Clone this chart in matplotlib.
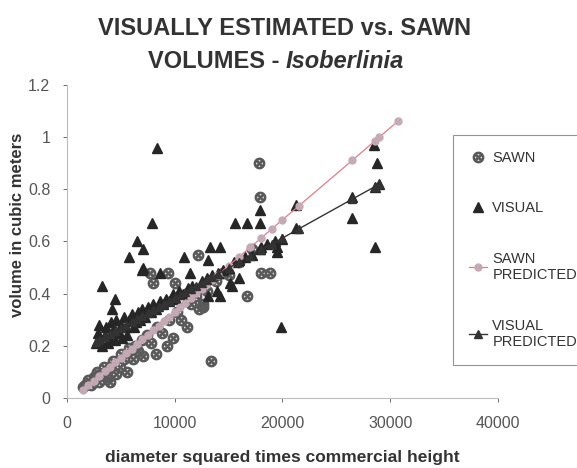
import matplotlib
matplotlib.use('Agg')
import matplotlib.pyplot as plt

plt.rcParams['font.family'] = ['Liberation Sans', 'DejaVu Sans']

# diameter squared times commercial height (x) and volume in m3 (y)
VISUAL_X = [2700, 2900, 3000, 3100, 3300, 3500, 3600, 3800, 4000, 4100, 4300, 4500, 4600, 4800,
            5000, 5100, 5300, 5500, 5600, 5800, 6000, 6200, 6400, 6600, 6800, 7000, 7200, 7500,
            7800, 8000, 8300, 8600, 8900, 9200, 9500, 9800, 10100, 10400, 10800, 11200, 11600,
            12000, 12500, 13000, 13500, 14000, 14500, 15000, 15500, 16000, 16500, 17200, 18000,
            18600, 19300, 20000,
            8350, 17900, 15600, 16700, 17900, 7900, 21300, 21300, 28500, 28800, 28600, 29000,
            26500, 26500, 28600, 13300, 14200, 10900, 13100, 17900, 19500, 16000, 15300, 14200,
            13900, 19900, 6500, 7100, 5800, 7000, 8600, 3300, 4500, 4200, 7100, 11400, 15100,
            13100, 19500]
VISUAL_Y = [0.21, 0.25, 0.28, 0.22, 0.20, 0.24, 0.27, 0.21, 0.23, 0.29, 0.26, 0.22, 0.30, 0.25,
            0.28, 0.23, 0.31, 0.27, 0.24, 0.30, 0.32, 0.27, 0.29, 0.33, 0.30, 0.34, 0.31, 0.35,
            0.33, 0.36, 0.34, 0.37, 0.36, 0.38, 0.37, 0.40, 0.38, 0.41, 0.40, 0.42, 0.43,
            0.42, 0.45, 0.46, 0.47, 0.48, 0.49, 0.50, 0.52, 0.53, 0.54, 0.55, 0.58,
            0.59, 0.60, 0.61,
            0.96, 0.72, 0.67, 0.67, 0.67, 0.67, 0.74, 0.65, 0.97, 0.90, 0.81, 0.82,
            0.77, 0.69, 0.58, 0.58, 0.58, 0.54, 0.53, 0.57, 0.58, 0.46, 0.43, 0.39,
            0.41, 0.27, 0.60, 0.57, 0.54, 0.49, 0.48, 0.43, 0.38, 0.34, 0.50, 0.48, 0.44,
            0.39, 0.56]

SAWN_X = [1500, 1700, 2000, 2200, 2500, 2800, 3000, 3100, 3400, 3600, 4000, 4000, 4300, 4600,
          4900, 5000, 5300, 5600, 5800, 6100, 6300, 6600, 7100, 7000, 7400, 7800, 8300, 8400,
          8800, 9300, 9500, 9800, 10200, 10600, 11100, 11500, 12000, 12300, 12600, 13000, 13400,
          13800, 14500, 15000, 16000, 16700, 17200, 18000, 18800, 17800, 17900, 12200, 7700,
          9400, 8000, 10000, 12600]
SAWN_Y = [0.04, 0.05, 0.07, 0.05, 0.08, 0.10, 0.06, 0.09, 0.12, 0.08, 0.06, 0.12, 0.14, 0.09,
          0.12, 0.17, 0.15, 0.10, 0.19, 0.15, 0.20, 0.18, 0.16, 0.22, 0.24, 0.21, 0.17, 0.27,
          0.25, 0.20, 0.30, 0.23, 0.33, 0.30, 0.27, 0.36, 0.39, 0.34, 0.36, 0.41, 0.14,
          0.45, 0.48, 0.47, 0.52, 0.39, 0.57, 0.48, 0.48, 0.90, 0.77, 0.55, 0.48,
          0.48, 0.44, 0.44, 0.35]

SAWN_PRED_X = [1500, 2000, 2500, 3000, 3500, 4000, 4500, 5000, 5500, 6000, 6500, 7000, 7500,
               8000, 8500, 9000, 9500, 10000, 10500, 11000, 11500, 12000, 12500, 13000, 13500,
               14000, 15000, 16000, 17000, 18000, 19000, 20000, 21500, 26500, 28600, 29000, 30700]
SAWN_PRED_Y = [0.030, 0.048, 0.065, 0.083, 0.101, 0.118, 0.136, 0.154, 0.171, 0.189, 0.206,
               0.224, 0.242, 0.259, 0.277, 0.295, 0.312, 0.330, 0.348, 0.365, 0.383, 0.401,
               0.418, 0.436, 0.454, 0.471, 0.507, 0.542, 0.577, 0.612, 0.648, 0.683, 0.736,
               0.912, 0.987, 1.001, 1.061]

VISUAL_PRED_X = [2700, 3000, 3500, 4000, 4500, 5000, 5500, 6000, 6500, 7000, 7500, 8000, 8500,
                 9000, 9500, 10000, 10500, 11000, 11500, 12000, 12500, 13000, 13500, 14000,
                 15000, 16000, 17000, 18000, 19000, 20000, 21500, 26500, 28600, 29000]
VISUAL_PRED_Y = [0.215, 0.222, 0.234, 0.245, 0.257, 0.268, 0.280, 0.291, 0.303, 0.314, 0.326,
                 0.337, 0.349, 0.360, 0.372, 0.383, 0.395, 0.406, 0.418, 0.429, 0.441, 0.452,
                 0.464, 0.475, 0.498, 0.521, 0.544, 0.567, 0.590, 0.613, 0.648, 0.763, 0.811,
                 0.820]

X_TICKS = [0, 10000, 20000, 30000, 40000]
Y_TICKS = [0, 0.2, 0.4, 0.6, 0.8, 1.0, 1.2]
Y_TICK_LABELS = ['0', '0.2', '0.4', '0.6', '0.8', '1', '1.2']

SAWN_MARK = r'$\otimes$'


def draw_title(fig) -> None:
    style = dict(fontsize=17, fontweight='bold', color='#333333', va='center')
    fig.text(0.494, 0.940, 'VISUALLY ESTIMATED vs. SAWN', ha='center', **style)

    # second line mixes upright and italic, so place the two parts side by side
    left = fig.text(0, 0.868, 'VOLUMES - ', ha='left', **style)
    right = fig.text(0, 0.868, 'Isoberlinia', ha='left', style='italic', **style)
    renderer = fig.canvas.get_renderer()
    w_left = left.get_window_extent(renderer).width / fig.bbox.width
    w_right = right.get_window_extent(renderer).width / fig.bbox.width
    start = 0.478 - (w_left + w_right) / 2
    left.set_x(start)
    right.set_x(start + w_left)


def main() -> None:
    fig = plt.figure(figsize=(5.77, 4.68), dpi=100)
    ax = fig.add_axes([0.116, 0.150, 0.747, 0.668])

    ax.plot(SAWN_X, SAWN_Y, linestyle='none', marker=SAWN_MARK, markersize=7.5,
            color='#5a5a5a', label='SAWN')
    ax.plot(VISUAL_X, VISUAL_Y, linestyle='none', marker='^', markersize=7,
            color='#262626', label='VISUAL')
    ax.plot(SAWN_PRED_X, SAWN_PRED_Y, linestyle='-', linewidth=0.9, color='#e07c8c',
            marker=SAWN_MARK, markersize=5, markeredgecolor='#c4aab4',
            markerfacecolor='#c4aab4', label='SAWN\nPREDICTED')
    ax.plot(VISUAL_PRED_X, VISUAL_PRED_Y, linestyle='-', linewidth=1.0, color='#333333',
            marker='^', markersize=6, label='VISUAL\nPREDICTED')

    ax.set_xlim(0, 40000)
    ax.set_ylim(0, 1.2)
    ax.set_xticks(X_TICKS)
    ax.set_xticklabels([str(t) for t in X_TICKS])
    ax.set_yticks(Y_TICKS)
    ax.set_yticklabels(Y_TICK_LABELS)
    ax.tick_params(labelsize=11.5, colors='#555555', length=3, width=0.6)
    ax.tick_params(axis='x', pad=10)
    ax.tick_params(axis='y', pad=9)
    for side in ('top', 'right'):
        ax.spines[side].set_visible(False)
    for side in ('left', 'bottom'):
        ax.spines[side].set_color('#bbbbbb')
        ax.spines[side].set_linewidth(0.8)

    ax.set_xlabel('diameter squared times commercial height', fontsize=12.5,
                  fontweight='bold', color='#333333', labelpad=14)
    fig.text(0.030, 0.52, 'volume in cubic meters', rotation=90, fontsize=12,
             fontweight='bold', color='#333333', ha='center', va='center')

    draw_title(fig)

    leg = ax.legend(loc='upper left', bbox_to_anchor=(453 / 577, 1 - 135 / 468),
                    bbox_transform=fig.transFigure, fontsize=10.5, frameon=True,
                    fancybox=False, edgecolor='#777777', labelspacing=2.5,
                    handlelength=1.2, handletextpad=0.4, borderpad=1.1,
                    borderaxespad=0)
    leg.get_frame().set_linewidth(0.8)
    for text in leg.get_texts():
        text.set_color('#333333')

    fig.savefig('out.png', dpi=100)
    plt.close(fig)


if __name__ == '__main__':
    main()
